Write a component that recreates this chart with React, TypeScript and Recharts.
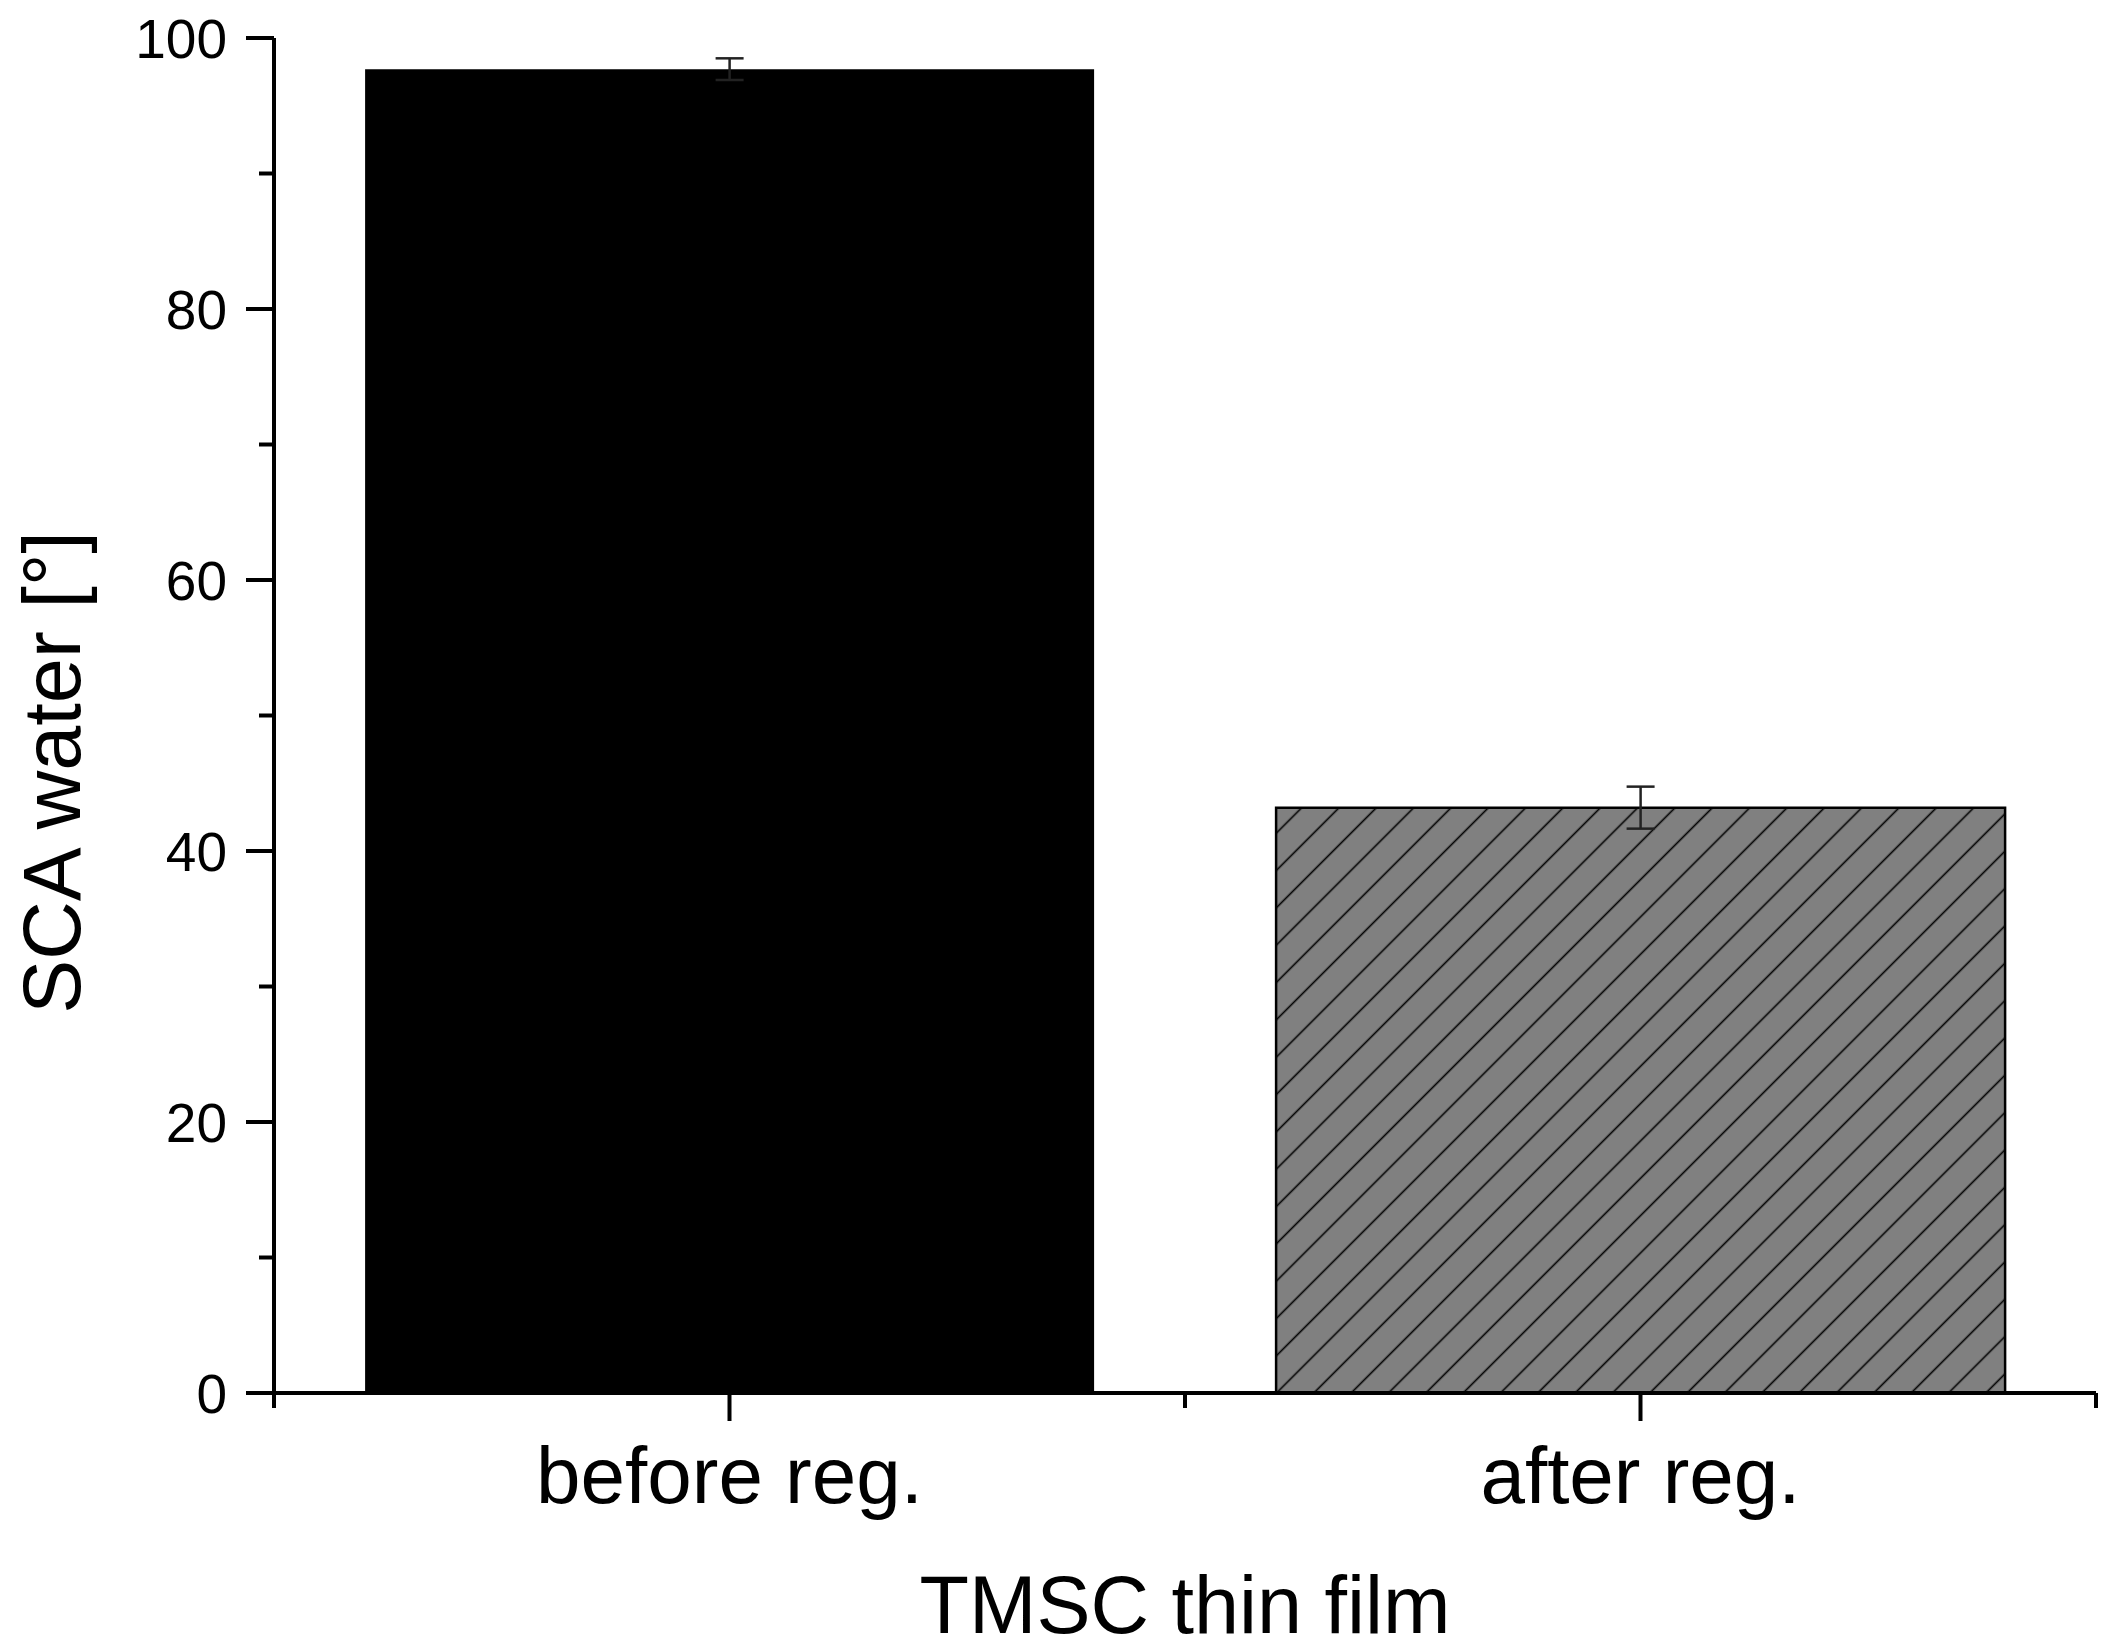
import React from 'react';
import { BarChart, Bar, XAxis, YAxis, ErrorBar, Cell } from 'recharts';

// values
const categories = ['before reg.', 'after reg.'];
const contactAngle = [97.7, 43.2];
const angleError = [0.8, 1.55];
const barFills = ['#000000', 'url(#hatch)'];
const barStrokes = ['none', '#000000'];

const yMajorTicks = [0, 20, 40, 60, 80, 100];
const yMinorTicks = [10, 30, 50, 70, 90];
const yTicks = [...yMajorTicks, ...yMinorTicks].sort((a, b) => a - b);

const data = categories.map((name, i) => ({
  name,
  value: contactAngle[i],
  err: angleError[i]
}));

const FONT = '"Liberation Sans", Arial, Helvetica, sans-serif';
const LINE_W = 4;
const MAJOR = 28;
const MINOR = 15;
const X_GAP = 25;
const Y_GAP = 19;
const axisStroke = {
  stroke: '#000',
  strokeWidth: LINE_W
};

// y tick: long tick + label on major values, short tick on minor ones
const YTick = (props: any) => {
  const { x, y, payload } = props;
  const axisX = x + MAJOR + Y_GAP;
  const isMajor = yMajorTicks.includes(payload.value);
  const len = isMajor ? MAJOR : MINOR;
  return <g>
      <line x1={axisX - len} x2={axisX} y1={y} y2={y} stroke="#000" strokeWidth={LINE_W} />
      {isMajor && <text x={x} y={y} dy="0.355em" textAnchor="end" fontSize={55} fontFamily={FONT} fill="#000">
          {payload.value}
        </text>}
    </g>;
};

// x tick: long tick at the category, short ticks at the band edges
const XTick = (props: any) => {
  const { x, y, payload, index, visibleTicksCount } = props;
  const axisY = y - MAJOR - X_GAP;
  const half = payload.offset || 0;
  return <g>
      <line x1={x} x2={x} y1={axisY} y2={axisY + MAJOR} stroke="#000" strokeWidth={LINE_W} />
      <line x1={x - half} x2={x - half} y1={axisY} y2={axisY + MINOR} stroke="#000" strokeWidth={LINE_W} />
      {index === visibleTicksCount - 1 && <line x1={x + half} x2={x + half} y1={axisY} y2={axisY + MINOR} stroke="#000" strokeWidth={LINE_W} />}
      <text x={x} y={y} dy="0.71em" textAnchor="middle" fontSize={80} fontFamily={FONT} fill="#000">
        {payload.value}
      </text>
    </g>;
};

const XTitle = (props: any) => {
  const { viewBox } = props;
  return <text x={viewBox.x + viewBox.width / 2} y={viewBox.y + 240} textAnchor="middle" fontSize={81} fontFamily={FONT} fill="#000">
      TMSC thin film
    </text>;
};

const YTitle = (props: any) => {
  const { viewBox } = props;
  const x = viewBox.x + 80;
  const y = viewBox.y + viewBox.height / 2 + 57;
  return <text x={x} y={y} transform={`rotate(-90, ${x}, ${y})`} textAnchor="middle" fontSize={81} fontFamily={FONT} fill="#000">
      SCA water [°]
    </text>;
};

const App: React.FC = () => {
  return <div style={{
    position: 'absolute',
    left: 0,
    top: 0,
    width: 2111,
    height: 1650,
    background: '#fff'
  }}>
      <BarChart width={2111} height={1650} data={data} barCategoryGap="10%" margin={{
      top: 38,
      right: 15,
      left: 0,
      bottom: 0
    }}>
        <defs>
          <pattern id="hatch" patternUnits="userSpaceOnUse" width="26.4" height="26.4" patternTransform="rotate(45)">
            <rect width="26.4" height="26.4" fill="#808080" />
            <line x1="13.2" y1="0" x2="13.2" y2="26.4" stroke="#000" strokeWidth={1.6} />
          </pattern>
        </defs>
        <XAxis dataKey="name" height={257} tickSize={MAJOR} tickMargin={X_GAP} axisLine={axisStroke} tickLine={false} tick={<XTick />} label={<XTitle />} />
        <YAxis type="number" domain={[0, 100]} ticks={yTicks} interval={0} width={274} tickSize={MAJOR} tickMargin={Y_GAP} axisLine={axisStroke} tickLine={false} tick={<YTick />} label={<YTitle />} />
        <Bar dataKey="value" isAnimationActive={false}>
          {data.map((d, i) => <Cell key={d.name} fill={barFills[i]} stroke={barStrokes[i]} strokeWidth={2.5} />)}
          <ErrorBar dataKey="err" width={14} stroke="#222" strokeWidth={2.5} isAnimationActive={false} />
        </Bar>
      </BarChart>
    </div>;
};

export default App;
